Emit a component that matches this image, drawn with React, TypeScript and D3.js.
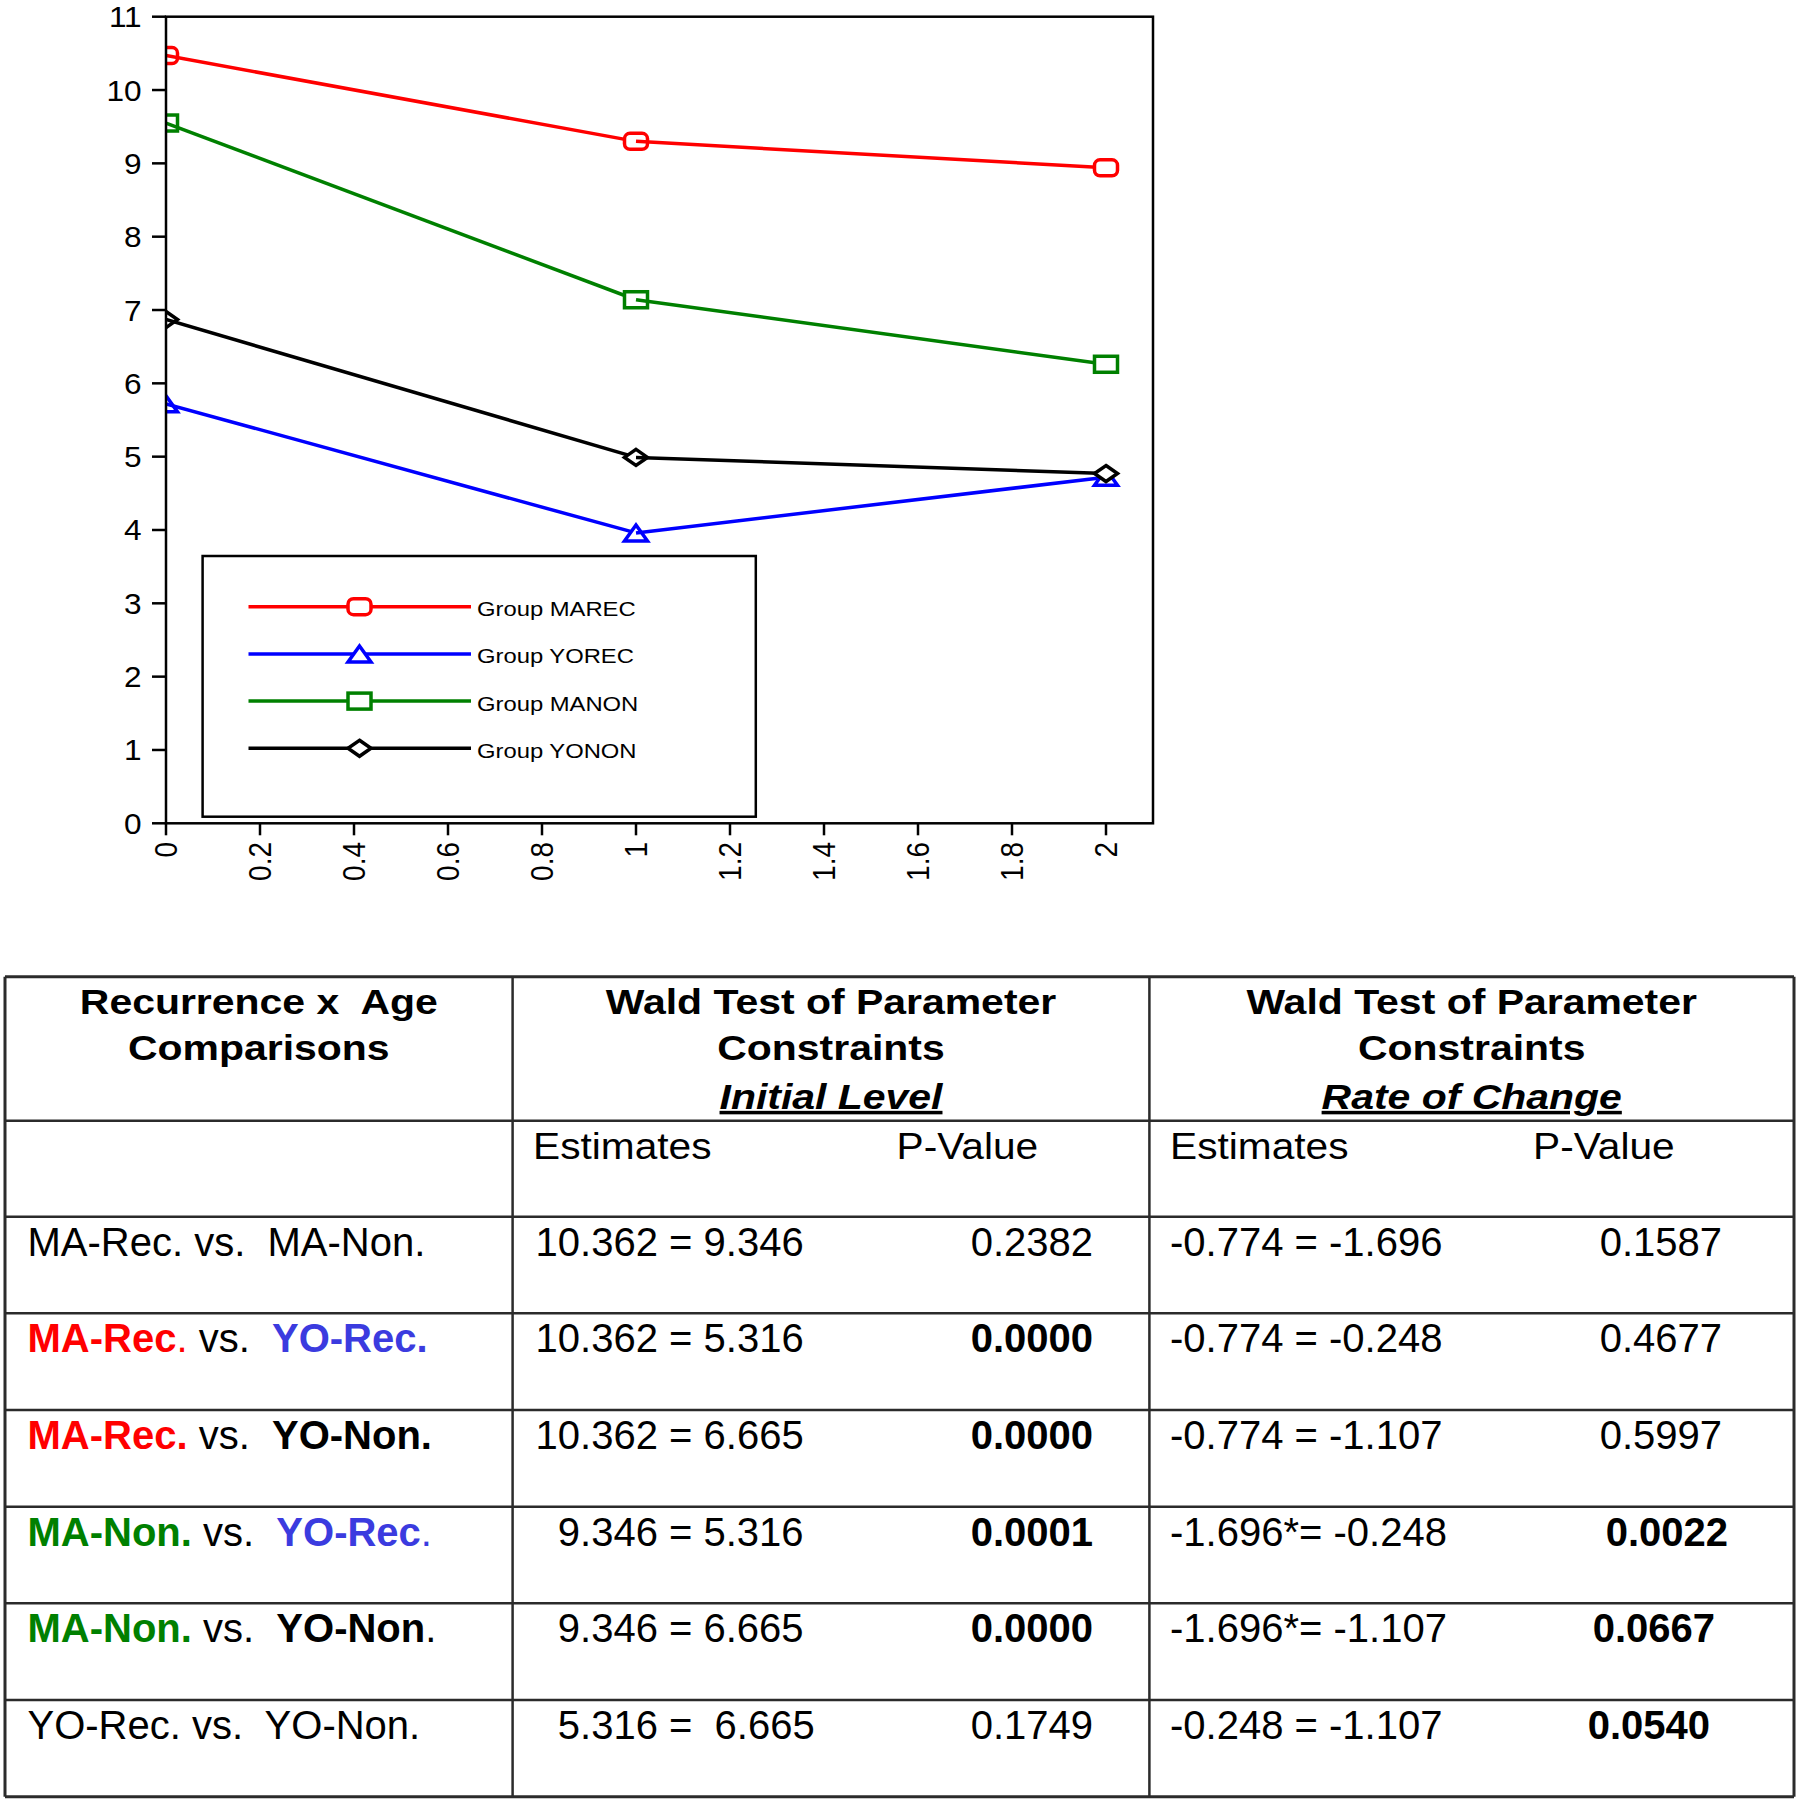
import React from "react";
import * as d3 from "d3";

// ---------- chart data ----------
const timePoints = [0, 1, 2];
const seriesNames = ["Group MAREC", "Group YOREC", "Group MANON", "Group YONON"];
const marecValues = [10.47, 9.3, 8.94];
const yorecValues = [5.72, 3.96, 4.72];
const manonValues = [9.55, 7.14, 6.26];
const yononValues = [6.87, 4.99, 4.77];
const seriesColors = ["#ff0000", "#0000ff", "#008000", "#000000"];
const seriesShapes = ["round", "triangle", "square", "diamond"];
const yTicks = [0, 1, 2, 3, 4, 5, 6, 7, 8, 9, 10, 11];
const xTicks = [0, 0.2, 0.4, 0.6, 0.8, 1, 1.2, 1.4, 1.6, 1.8, 2];

// ---------- table data ----------
const RED = "#ff0000";
const BLUE = "#3b3bdf";
const GREEN = "#008000";
type Seg = { t: string; c?: string; b?: boolean };
const comparisonLabels: Seg[][] = [
  [{ t: "MA-Rec. vs.  MA-Non." }],
  [{ t: "MA-Rec", c: RED, b: true }, { t: ".", c: RED }, { t: " vs.  " }, { t: "YO-Rec.", c: BLUE, b: true }],
  [{ t: "MA-Rec.", c: RED, b: true }, { t: " vs.  " }, { t: "YO-Non.", b: true }],
  [{ t: "MA-Non.", c: GREEN, b: true }, { t: " vs.  " }, { t: "YO-Rec", c: BLUE, b: true }, { t: ".", c: BLUE }],
  [{ t: "MA-Non.", c: GREEN, b: true }, { t: " vs.  " }, { t: "YO-Non", b: true }, { t: "." }],
  [{ t: "YO-Rec. vs.  YO-Non." }],
];
const initialEstimates = ["10.362 = 9.346", "10.362 = 5.316", "10.362 = 6.665", "  9.346 = 5.316", "  9.346 = 6.665", "  5.316 =  6.665"];
const initialP = ["0.2382", "0.0000", "0.0000", "0.0001", "0.0000", "0.1749"];
const initialPBold = [false, true, true, true, true, false];
const rateEstimates = ["-0.774 = -1.696", "-0.774 = -0.248", "-0.774 = -1.107", "-1.696*= -0.248", "-1.696*= -1.107", "-0.248 = -1.107"];
const rateP = ["0.1587", "0.4677", "0.5997", "0.0022", "0.0667", "0.0540"];
const ratePBold = [false, false, false, true, true, true];
const ratePNudge = [0, 0, 0, 6, -7, -12];
const headerCol1 = ["Recurrence x  Age", "Comparisons"];
const headerWald = ["Wald Test of Parameter", "Constraints"];
const headerSub = ["Initial Level", "Rate of Change"];
const subHeaders = ["Estimates", "P-Value"];

const FONT = "'Liberation Sans', Arial, Helvetica, sans-serif";

function SText(props: any) {
  const { x, y, sx = 1, anchor = "start", children, ...rest } = props;
  return (
    <text
      transform={`translate(${x},${y}) scale(${sx},1)`}
      textAnchor={anchor}
      fontFamily={FONT}
      style={{ whiteSpace: "pre" }}
      xmlSpace="preserve"
      {...rest}
    >
      {children}
    </text>
  );
}

function Marker({ shape, cx, cy, color }: any) {
  const w = 23, h = 16;
  const common = { fill: "#fff", stroke: color, strokeWidth: 3.5 };
  if (shape === "round") return <rect x={cx - w / 2} y={cy - h / 2} width={w} height={h} rx={5.5} {...common} />;
  if (shape === "square") return <rect x={cx - w / 2} y={cy - h / 2} width={w} height={h} {...common} />;
  if (shape === "triangle")
    return <path d={`M${cx},${cy - h / 2}L${cx + w / 2},${cy + h / 2}L${cx - w / 2},${cy + h / 2}Z`} {...common} />;
  return <path d={`M${cx},${cy - h / 2}L${cx + w / 2},${cy}L${cx},${cy + h / 2}L${cx - w / 2},${cy}Z`} {...common} />;
}

export default function App() {
  const x = d3.scaleLinear().domain([0, 2.1]).range([166, 1153]);
  const y = d3.scaleLinear().domain([0, 11]).range([823.3, 16.7]);
  const allValues = [marecValues, yorecValues, manonValues, yononValues];
  const seg = d3.line<[number, number]>().x((d) => x(d[0])).y((d) => y(d[1]));

  // table layout
  const colX = [5, 512.6, 1149.4, 1794];
  const rowY = [976.7, 1120.7, 1216.7, 1313.3, 1410, 1506.7, 1603.3, 1700, 1796.7];
  const c1 = (colX[0] + colX[1]) / 2;
  const c2 = (colX[1] + colX[2]) / 2;
  const c3 = (colX[2] + colX[3]) / 2;

  return (
    <svg width={1800} height={1802} style={{ position: "absolute", left: 0, top: 0, background: "#fff" }}>
      <rect x={0} y={0} width={1800} height={1802} fill="#fff" />
      <defs>
        <clipPath id="plotClip">
          <rect x={x(0)} y={y(11)} width={x(2.1) - x(0)} height={y(0) - y(11)} />
        </clipPath>
      </defs>

      {/* series: marker i, then segment i -> i+1 (as the original draws them) */}
      <g clipPath="url(#plotClip)">
        {allValues.map((vals, s) => (
          <g key={s}>
            {vals.map((v, i) => (
              <g key={i}>
                <Marker shape={seriesShapes[s]} cx={x(timePoints[i])} cy={y(v)} color={seriesColors[s]} />
                {i < vals.length - 1 && (
                  <path
                    d={seg([[timePoints[i], v], [timePoints[i + 1], vals[i + 1]]])!}
                    fill="none"
                    stroke={seriesColors[s]}
                    strokeWidth={3.5}
                  />
                )}
              </g>
            ))}
          </g>
        ))}
      </g>

      {/* frame */}
      <rect x={x(0)} y={y(11)} width={x(2.1) - x(0)} height={y(0) - y(11)} fill="none" stroke="#000" strokeWidth={2.5} />

      {/* y axis ticks */}
      {yTicks.map((t) => (
        <g key={t}>
          <line x1={x(0) - 14} x2={x(0)} y1={y(t)} y2={y(t)} stroke="#000" strokeWidth={2.5} />
          <SText x={141.7} y={y(t) + 10.5} sx={1.09} anchor="end" fontSize={29} fill="#000">
            {d3.format("~g")(t)}
          </SText>
        </g>
      ))}

      {/* x axis ticks */}
      {xTicks.map((t) => (
        <g key={t}>
          <line x1={x(t)} x2={x(t)} y1={y(0)} y2={y(0) + 12} stroke="#000" strokeWidth={2.5} />
          <text
            transform={`translate(${x(t) + 10.5},842) scale(1.15,1) rotate(-90)`}
            textAnchor="end"
            fontFamily={FONT}
            fontSize={28}
            fill="#000"
          >
            {d3.format("~g")(t)}
          </text>
        </g>
      ))}

      {/* legend */}
      <rect x={202.6} y={556} width={755.8 - 202.6} height={816.7 - 556} fill="#fff" stroke="#000" strokeWidth={2.5} />
      {seriesNames.map((name, s) => {
        const ly = 606.7 + s * 47.2;
        return (
          <g key={name}>
            <line x1={248.5} x2={471} y1={ly} y2={ly} stroke={seriesColors[s]} strokeWidth={3.5} />
            <Marker shape={seriesShapes[s]} cx={359.5} cy={ly} color={seriesColors[s]} />
            <SText x={477} y={ly + 9.5} sx={1.19} fontSize={20} fill="#000">
              {name}
            </SText>
          </g>
        );
      })}

      {/* table grid */}
      <g stroke="#2b2b2b">
        {rowY.map((ry, i) => (
          <line key={"r" + i} x1={colX[0]} x2={colX[3]} y1={ry} y2={ry} strokeWidth={i === 0 || i === rowY.length - 1 ? 3 : 2.5} />
        ))}
        {colX.map((cx, i) => (
          <line key={"c" + i} x1={cx} x2={cx} y1={rowY[0]} y2={rowY[rowY.length - 1]} strokeWidth={i === 0 || i === colX.length - 1 ? 3 : 2.5} />
        ))}
      </g>

      {/* header */}
      {headerCol1.map((t, i) => (
        <SText key={t} x={c1} y={1014 + i * 46} sx={1.17} anchor="middle" fontSize={35} fontWeight="bold" fill="#000">
          {t}
        </SText>
      ))}
      {[c2, c3].map((cx, k) => (
        <g key={k}>
          {headerWald.map((t, i) => (
            <SText key={t} x={cx} y={1014 + i * 46} sx={1.17} anchor="middle" fontSize={35} fontWeight="bold" fill="#000">
              {t}
            </SText>
          ))}
          <SText x={cx} y={1109} sx={1.17} anchor="middle" fontSize={35} fontWeight="bold" fontStyle="italic" textDecoration="underline" fill="#000">
            {headerSub[k]}
          </SText>
        </g>
      ))}

      {/* sub header */}
      <SText x={533} y={1159} sx={1.13} fontSize={36} fill="#000">{subHeaders[0]}</SText>
      <SText x={896.5} y={1159} sx={1.13} fontSize={36} fill="#000">{subHeaders[1]}</SText>
      <SText x={1170} y={1159} sx={1.13} fontSize={36} fill="#000">{subHeaders[0]}</SText>
      <SText x={1533} y={1159} sx={1.13} fontSize={36} fill="#000">{subHeaders[1]}</SText>

      {/* data rows */}
      {comparisonLabels.map((segs, r) => {
        const by = rowY[r + 2] + 39;
        return (
          <g key={r}>
            <SText x={27.5} y={by} fontSize={40} fill="#000">
              {segs.map((s, j) => (
                <tspan key={j} fill={s.c || "#000"} fontWeight={s.b ? "bold" : "normal"}>
                  {s.t}
                </tspan>
              ))}
            </SText>
            <SText x={535.6} y={by} fontSize={40} fill="#000">{initialEstimates[r]}</SText>
            <SText x={1093} y={by} anchor="end" fontSize={40} fontWeight={initialPBold[r] ? "bold" : "normal"} fill="#000">
              {initialP[r]}
            </SText>
            <SText x={1170} y={by} fontSize={40} fill="#000">{rateEstimates[r]}</SText>
            <SText x={1722 + ratePNudge[r]} y={by} anchor="end" fontSize={40} fontWeight={ratePBold[r] ? "bold" : "normal"} fill="#000">
              {rateP[r]}
            </SText>
          </g>
        );
      })}
    </svg>
  );
}
